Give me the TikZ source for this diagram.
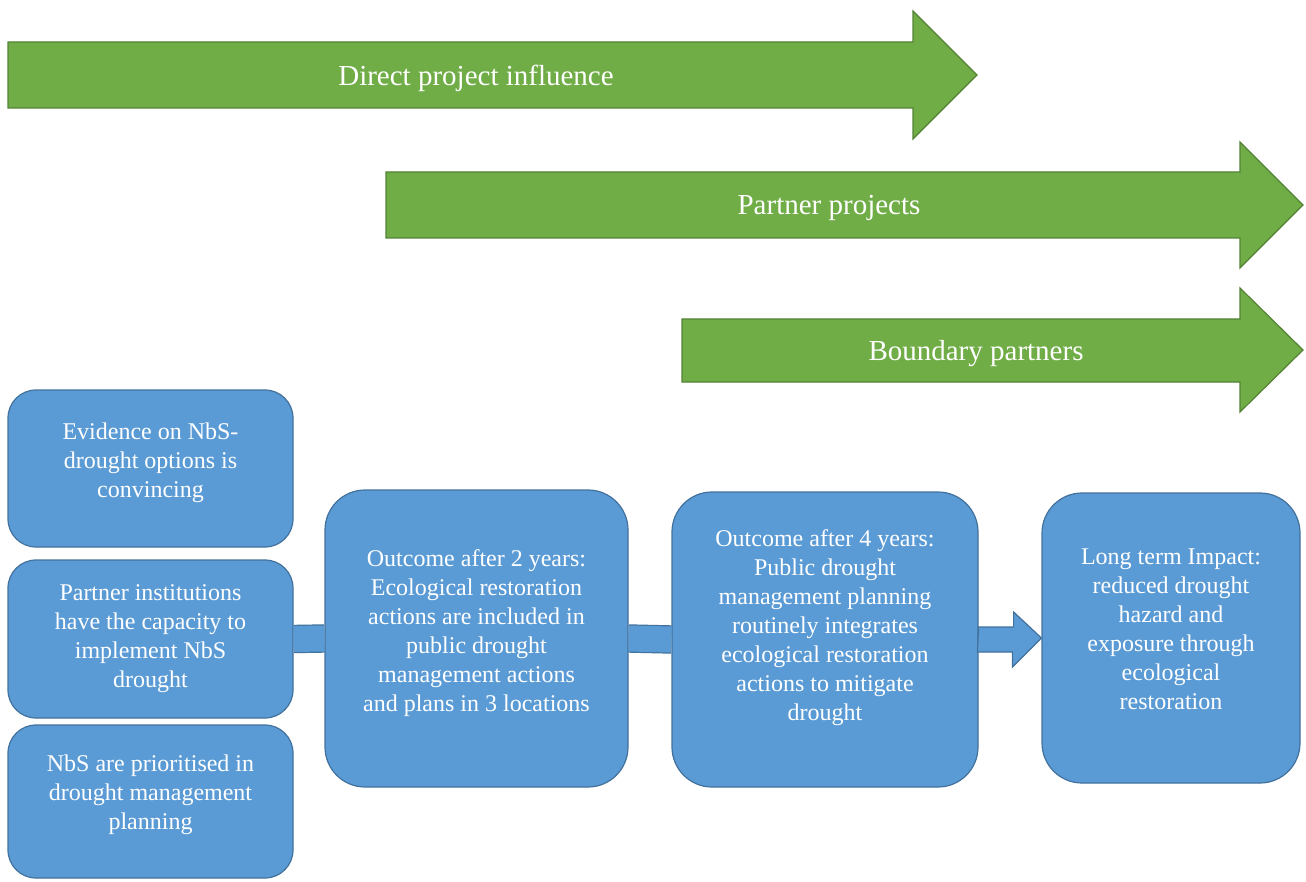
\documentclass[tikz,border=0pt]{standalone}
\usepackage{fontspec}
\setmainfont{Liberation Serif}
\usepackage{xcolor}
\usepackage{tikz}
\usetikzlibrary{calc}
\definecolor{boxblue}{RGB}{91,155,213}
\definecolor{boxedge}{RGB}{65,113,156}
\definecolor{arrowgreen}{RGB}{112,173,71}
\definecolor{arrowedge}{RGB}{84,130,53}
\tikzset{>=latex}
\tikzset{
	bluebox/.style={draw=boxedge, fill=boxblue, line width=1.2pt,
		text=white, align=center,
		font=\fontsize{24}{29}\selectfont},
	smallbox/.style={bluebox, rounded corners=28pt},
	bigbox/.style={bluebox, rounded corners=40pt},
	greenarrow/.style={draw=arrowedge, fill=arrowgreen, line width=1.2pt},
	arrowtext/.style={text=white, font=\fontsize{29}{35}\selectfont},
	bluebar/.style={draw=boxedge, line width=1.2pt,
		double=boxblue, double distance=26pt},
	bluearrow/.style={draw=boxedge, fill=boxblue, line width=1.2pt},
}

\begin{document}
\begin{tikzpicture}[x=1pt, y=-1pt]
\useasboundingbox (0,0) rectangle (1306,882);

% draw green arrows
	\draw[greenarrow] (8,42) -- (913,42) -- (913,11) -- (977,75)
		-- (913,139) -- (913,108) -- (8,108) -- cycle;
	\draw[greenarrow] (386,172) -- (1240,172) -- (1240,142) -- (1303,205)
		-- (1240,268) -- (1240,238) -- (386,238) -- cycle;
	\draw[greenarrow] (682,319) -- (1240,319) -- (1240,288) -- (1303,350)
		-- (1240,412) -- (1240,382) -- (682,382) -- cycle;

	\node[arrowtext] (direct) at (476,78) {Direct project influence};
	\node[arrowtext] (partnerproj) at (829,208) {Partner projects};
	\node[arrowtext] (boundary) at (976,354) {Boundary partners};

% draw rectangle node
	\node[smallbox,
		minimum width=285pt,
		minimum height=157pt,
		text depth=17pt] (evidence) at (150.5,468.5)
		{Evidence on NbS-\\drought options is\\convincing};
	\node[smallbox,
		minimum width=285pt,
		minimum height=158pt] (capacity) at (150.5,639)
		{Partner institutions\\have the capacity to\\implement NbS\\drought};
	\node[smallbox,
		minimum width=285pt,
		minimum height=153pt,
		text depth=19pt] (prioritised) at (150.5,801.5)
		{NbS are prioritised in\\drought management\\planning};
	\node[bigbox,
		minimum width=303pt,
		minimum height=297pt,
		text depth=15pt] (outcome2) at (476.5,638.5)
		{Outcome after 2 years:\\Ecological restoration\\actions are included in\\public drought\\management actions\\and plans in 3 locations};
	\node[bigbox,
		minimum width=306pt,
		minimum height=295pt,
		text depth=29pt] (outcome4) at (825,639.5)
		{Outcome after 4 years:\\Public drought\\management planning\\routinely integrates\\ecological restoration\\actions to mitigate\\drought};
	\node[bigbox,
		minimum width=258pt,
		minimum height=290pt,
		text depth=18pt] (impact) at (1171,638)
		{Long term Impact:\\reduced drought\\hazard and\\exposure through\\ecological\\restoration};

	\draw[bluebar] (capacity.east) -- (outcome2.west);
	\draw[bluebar] (outcome2.east) -- (outcome4.west);
	\draw[bluearrow] (outcome4.east) ++(0,-12.5) -- ++(35,0) -- ++(0,-15)
		-- (impact.west) -- ++(-29,29) -- ++(0,-15) -- ++(-35,0) -- cycle;
\end{tikzpicture}
\end{document}
